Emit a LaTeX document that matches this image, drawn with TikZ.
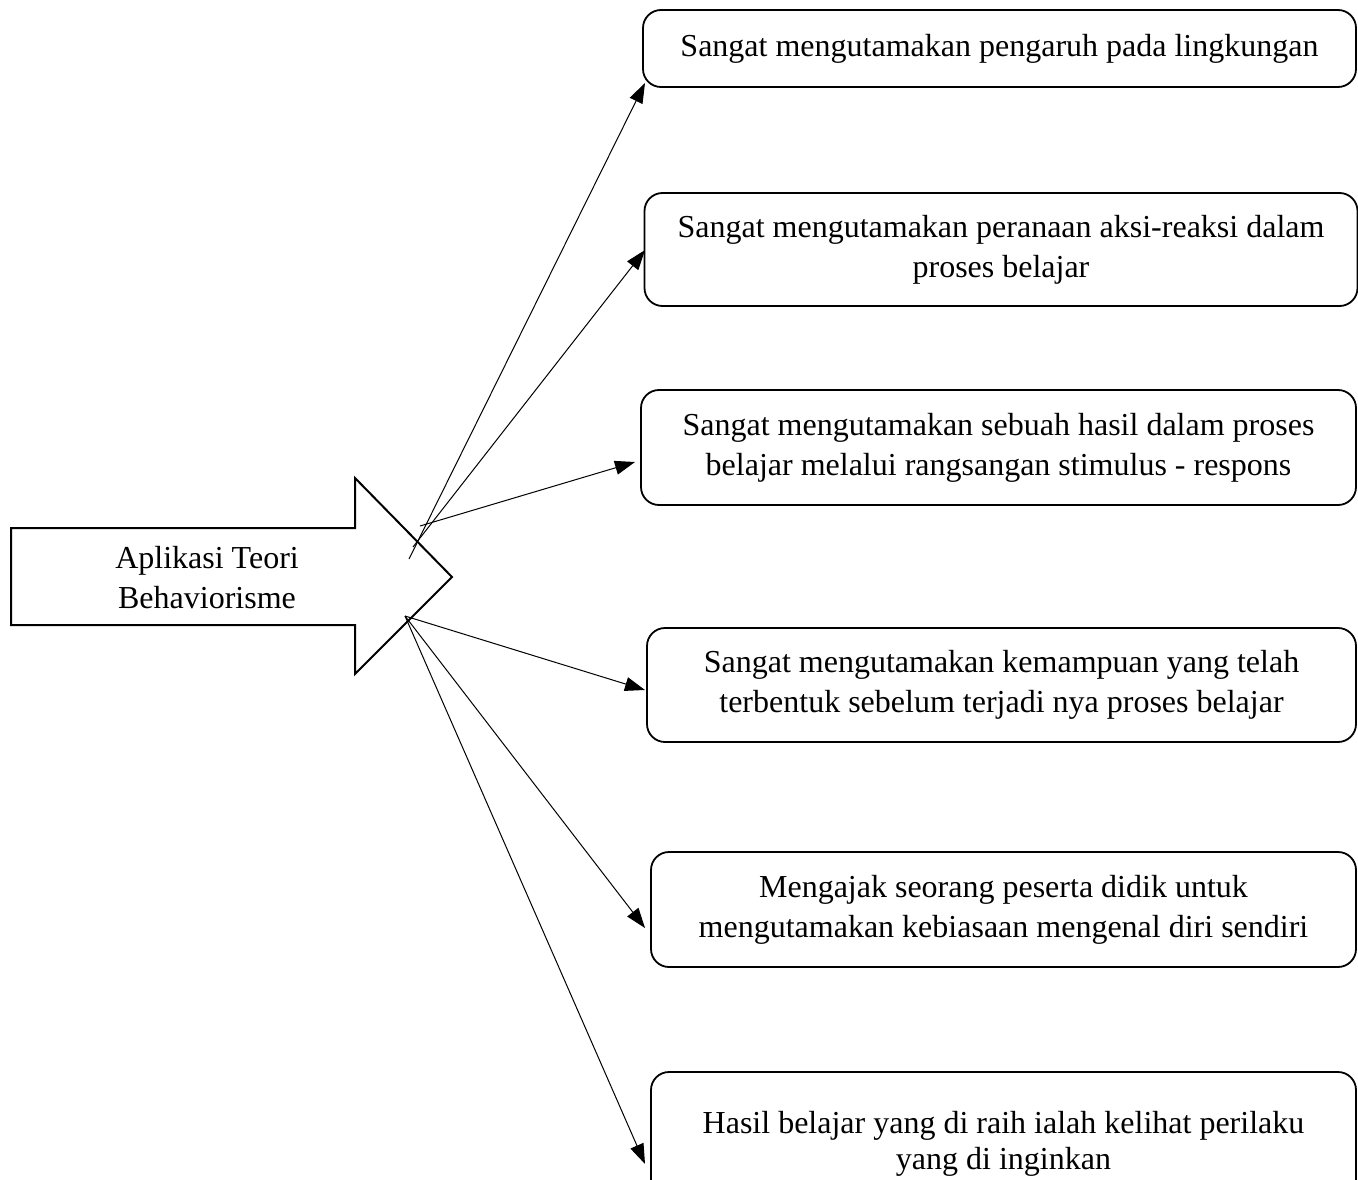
\documentclass[tikz,border=0pt]{standalone}
\usepackage{fontspec}
\setmainfont{Liberation Serif}
\usetikzlibrary{arrows.meta}
\begin{document}
\begin{tikzpicture}[x=1pt,y=1pt,
  txt/.style={font=\fontsize{32}{40}\selectfont, align=center},
  itembox/.style={draw, line width=1.8pt, rounded corners=18pt, inner sep=0pt, txt},
  conn/.style={line width=1pt, -{Triangle[length=20pt,width=14pt]}}]
\useasboundingbox (0,0) rectangle (1358,-1180);
% big arrow
\draw[line width=2pt, line join=miter] (11,-528) -- (355,-528) -- (355,-478) -- (452,-577) -- (355,-674) -- (355,-625) -- (11,-625) -- cycle;
\node[txt] (main) at (207,-578) {Aplikasi Teori\\Behaviorisme};
% boxes
\node[itembox, minimum width=713pt, minimum height=77pt] (b1) at (999.5,-48.5) {Sangat mengutamakan pengaruh pada lingkungan};
\node[itembox, minimum width=713pt, minimum height=113pt] (b2) at (1001,-249.5) {Sangat mengutamakan peranaan aksi-reaksi dalam\\proses belajar};
\node[itembox, minimum width=715pt, minimum height=115pt] (b3) at (998.5,-447.5) {Sangat mengutamakan sebuah hasil dalam proses\\belajar melalui rangsangan stimulus - respons};
\node[itembox, minimum width=709pt, minimum height=114pt] (b4) at (1001.5,-685) {Sangat mengutamakan kemampuan yang telah\\terbentuk sebelum terjadi nya proses belajar};
\node[itembox, minimum width=705pt, minimum height=115pt] (b5) at (1003.5,-909.5) {Mengajak seorang peserta didik untuk\\mengutamakan kebiasaan mengenal diri sendiri};
\node[itembox, minimum width=705pt, minimum height=144pt, font=\fontsize{32}{36}\selectfont] (b6) at (1003.5,-1144) {Hasil belajar yang di raih ialah kelihat perilaku\\yang di inginkan};
% start points
\coordinate (s1) at (409,-559);
\coordinate (s2) at (413,-547);
\coordinate (s3) at (420,-526);
\coordinate (s4) at (405,-616);
% end points
\coordinate (e1) at (645,-83);
\coordinate (e2) at (645,-250);
\coordinate (e3) at (635,-462);
\coordinate (e4) at (645,-690);
\coordinate (e5) at (645,-928);
\coordinate (e6) at (645,-1164);
\draw[conn] (s1) -- (e1);
\draw[conn] (s2) -- (e2);
\draw[conn] (s3) -- (e3);
\draw[conn] (s4) -- (e4);
\draw[conn] (s4) -- (e5);
\draw[conn] (s4) -- (e6);
\end{tikzpicture}
\end{document}
